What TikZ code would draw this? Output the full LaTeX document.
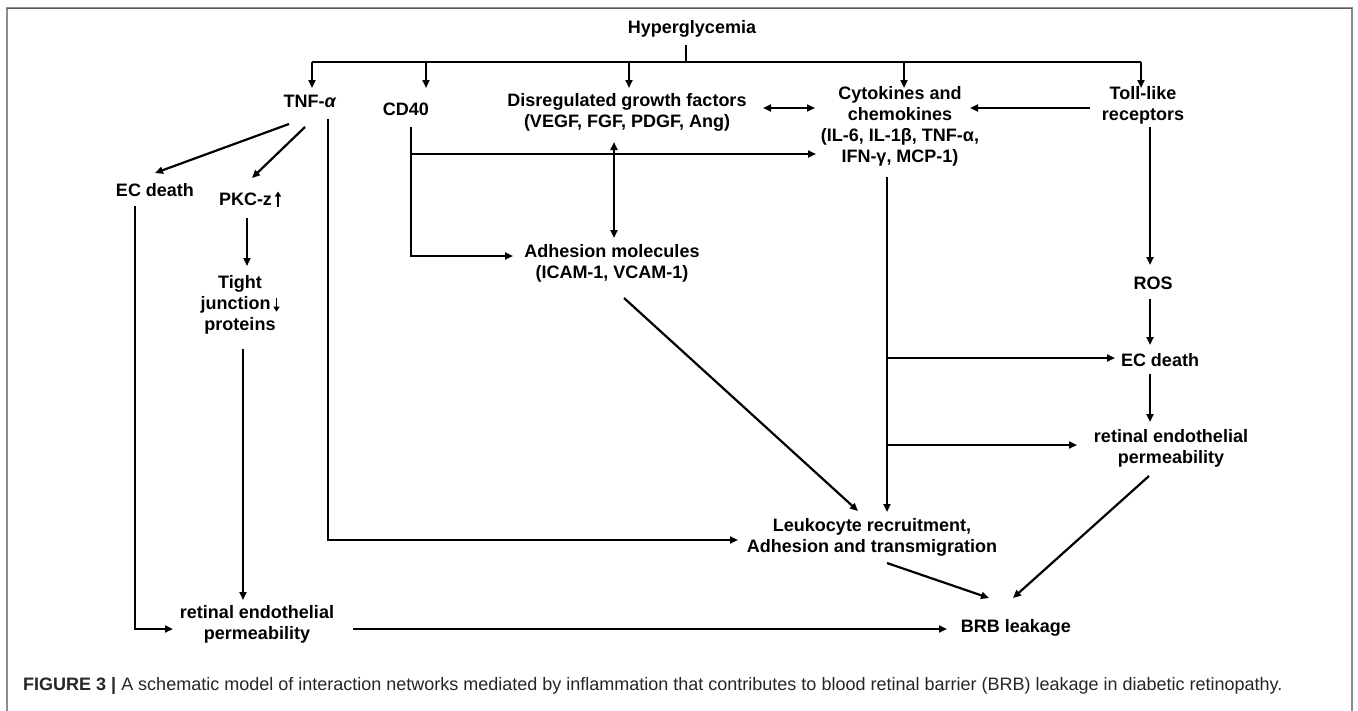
\documentclass[tikz,border=0pt]{standalone}
\usepackage{fontspec}
\setmainfont{Liberation Sans}
\usetikzlibrary{arrows.meta}
\newcommand{\myup}{\,\tikz[baseline=0pt]\draw[line width=1.8pt,-{Triangle[length=5pt,width=6pt]}] (0pt,-1pt) -- (0pt,14pt);}
\newcommand{\mydown}{\,\tikz[baseline=0pt]\draw[line width=1.8pt,-{Triangle[length=5pt,width=6pt]}] (0pt,12pt) -- (0pt,-2pt);}
\tikzset{
  lbl/.style={font=\bfseries\fontsize{18}{21}\selectfont, align=center, inner sep=0pt},
  conn/.style={line width=2.2pt, -{Triangle[length=8pt,width=7pt]}},
  dconn/.style={line width=2.2pt, {Triangle[length=8pt,width=7pt]}-{Triangle[length=8pt,width=7pt]}},
  plain/.style={line width=2.2pt},
  frame/.style={line width=1.5pt, draw=black!45},
}
\begin{document}
\begin{tikzpicture}[x=1pt,y=-1pt]
\useasboundingbox (0,0) rectangle (1358,710);
\fill[white] (0,0) rectangle (1358,710);
% frame
\draw[frame] (7,712) -- (7,8) -- (1352,8) -- (1352,712);
\draw[line width=1pt, black!65] (7,8) -- (1352,8);

% nodes
\node[lbl] (hyper) at (692,29) {Hyperglycemia};
\node[lbl] (tnf) at (310,101) {TNF-\textit{α}};
\node[lbl] (cd40) at (406,109) {CD40};
\node[lbl] (dgf) at (627,112) {Disregulated growth factors\\(VEGF, FGF, PDGF, Ang)};
\node[lbl] (cyt) at (900,126) {Cytokines and\\chemokines\\(IL-6, IL-1β, TNF-α,\\IFN-γ, MCP-1)};
\node[lbl] (toll) at (1143,105) {Toll-like\\receptors};
\node[lbl] (ecL) at (155,190) {EC death};
\node[lbl] (pkc) at (250,199) {PKC-z\myup};
\node[lbl] (adh) at (612,263) {Adhesion molecules\\(ICAM-1, VCAM-1)};
\node[lbl] (tight) at (240,305) {Tight\\junction\mydown\\proteins};
\node[lbl] (ros) at (1153,283) {ROS};
\node[lbl] (ecR) at (1160,360) {EC death};
\node[lbl] (retR) at (1171,448) {retinal endothelial\\permeability};
\node[lbl] (leuk) at (872,537) {Leukocyte recruitment,\\Adhesion and transmigration};
\node[lbl] (retL) at (257,624) {retinal endothelial\\permeability};
\node[lbl] (brb) at (1016,628) {BRB leakage};
\node[anchor=west, inner sep=0pt, text=black!85, font=\fontsize{18}{21}\selectfont] (cap) at (23,686)
  {\textbf{FIGURE 3 |} A schematic model of interaction networks mediated by inflammation that contributes to blood retinal barrier (BRB) leakage in diabetic retinopathy.};

% coordinates
\coordinate (hs) at (686,45);
\coordinate (hb) at (686,62);
\coordinate (barL) at (312,62);
\coordinate (barR) at (1141,62);
\coordinate (tTnf) at (312,88);
\coordinate (tCd) at (426,62);
\coordinate (tCdE) at (426,88);
\coordinate (tDg) at (629,62);
\coordinate (tDgE) at (629,88);
\coordinate (tCy) at (904,62);
\coordinate (tCyE) at (904,88);
\coordinate (tTl) at (1141,88);

% top distribution
\draw[plain] (hs) -- (hb);
\draw[plain] (barL) -- (barR);
\draw[conn] (barL) -- (tTnf);
\draw[conn] (tCd) -- (tCdE);
\draw[conn] (tDg) -- (tDgE);
\draw[conn] (tCy) -- (tCyE);
\draw[conn] (barR) -- (tTl);

% TNF branch
\coordinate (tnfA) at (289,124);
\coordinate (ecLt) at (155,173);
\coordinate (tnfB) at (305,127);
\coordinate (pkct) at (252,178);
\draw[conn] (tnfA) -- (ecLt);
\draw[conn] (tnfB) -- (pkct);
\coordinate (tnfV) at (328,119);
\coordinate (tnfC) at (328,540);
\coordinate (leukL) at (738,540);
\draw[conn] (tnfV) -- (tnfC) -- (leukL);

% left column
\coordinate (ecV) at (135,206);
\coordinate (ecC) at (135,629);
\coordinate (retLt) at (173,629);
\draw[conn] (ecV) -- (ecC) -- (retLt);
\coordinate (pkcB) at (247,218);
\coordinate (tightT) at (247,266);
\coordinate (tightB) at (243,349);
\coordinate (retLtop) at (243,600);
\draw[conn] (pkcB) -- (tightT);
\draw[conn] (tightB) -- (retLtop);
\coordinate (retLr) at (353,629);
\coordinate (brbL) at (947,629);
\draw[conn] (retLr) -- (brbL);

% CD40
\coordinate (cdV) at (411,127);
\coordinate (cdC) at (411,256);
\coordinate (adhL) at (513,256);
\coordinate (cdM) at (411,154);
\coordinate (cytL) at (816,154);
\draw[conn] (cdV) -- (cdC) -- (adhL);
\draw[conn] (cdM) -- (cytL);

% growth factors
\coordinate (dgR) at (763,108);
\coordinate (cyL) at (815,108);
\draw[dconn] (dgR) -- (cyL);
\coordinate (dgB) at (614,142);
\coordinate (adT) at (614,238);
\draw[dconn] (dgB) -- (adT);

% Toll
\coordinate (tlL) at (1090,108);
\coordinate (cyR) at (970,108);
\draw[conn] (tlL) -- (cyR);
\coordinate (tlB) at (1150,127);
\coordinate (rosT) at (1150,265);
\draw[conn] (tlB) -- (rosT);
\coordinate (rosB) at (1150,299);
\coordinate (ecRT) at (1150,345);
\draw[conn] (rosB) -- (ecRT);
\coordinate (ecRB) at (1150,374);
\coordinate (retRT) at (1150,422);
\draw[conn] (ecRB) -- (retRT);

% cytokine column
\coordinate (cyB) at (887,177);
\coordinate (leukT) at (887,512);
\draw[conn] (cyB) -- (leukT);
\coordinate (br1) at (887,358);
\coordinate (ecRL) at (1115,358);
\draw[conn] (br1) -- (ecRL);
\coordinate (br2) at (887,445);
\coordinate (retRL) at (1077,445);
\draw[conn] (br2) -- (retRL);

% diagonals
\coordinate (adB) at (624,298);
\coordinate (leukTL) at (858,511);
\draw[conn] (adB) -- (leukTL);
\coordinate (leukB) at (887,563);
\coordinate (brbT1) at (989,598);
\draw[conn] (leukB) -- (brbT1);
\coordinate (retRB) at (1149,476);
\coordinate (brbT2) at (1013,598);
\draw[conn] (retRB) -- (brbT2);
\end{tikzpicture}
\end{document}
